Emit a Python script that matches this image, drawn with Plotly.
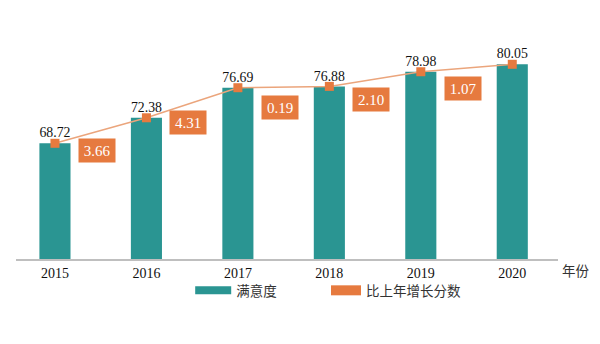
import plotly.graph_objects as go

years = ["2015", "2016", "2017", "2018", "2019", "2020"]
satisfaction = [68.72, 72.38, 76.69, 76.88, 78.98, 80.05]
increase = ["3.66", "4.31", "0.19", "2.10", "1.07"]

TEAL = "#2A9592"
ORANGE = "#E67A3F"
LINE = "#EBA57C"
SERIF = "Liberation Serif, Times New Roman, serif"
CJK = "Noto Sans CJK SC"

xs = list(range(len(years)))

fig = go.Figure()
fig.add_trace(go.Bar(
    x=xs, y=satisfaction, name="满意度", marker=dict(color=TEAL, line=dict(width=0)),
    width=0.34, text=[f"{v:.2f}" for v in satisfaction], textposition="outside",
    textfont=dict(family=SERIF, size=14.5, color="#111111"), cliponaxis=False,
    hoverinfo="skip", showlegend=False,
))
fig.add_trace(go.Scatter(
    x=xs, y=satisfaction, mode="lines+markers", showlegend=False,
    line=dict(color=LINE, width=1.5),
    marker=dict(symbol="square", size=9, color=ORANGE), cliponaxis=False,
))
# legend-only entries
fig.add_trace(go.Scatter(
    x=[None], y=[None], mode="lines", name="满意度",
    line=dict(color=TEAL, width=8), legend="legend",
))
fig.add_trace(go.Scatter(
    x=[None], y=[None], mode="lines", name="比上年增长分数",
    line=dict(color=ORANGE, width=10), legend="legend2",
))

for i, lab in enumerate(increase):
    mid = (satisfaction[i] + satisfaction[i + 1]) / 2
    fig.add_annotation(
        x=i + 0.5, y=mid, xref="x", yref="y", text=lab, showarrow=False,
        font=dict(family=SERIF, size=15, color="white"),
        bgcolor=ORANGE, width=34, height=21, borderpad=1, yshift=-20, xshift=-4,
    )

fig.add_annotation(
    x=1, y=0, xref="paper", yref="paper", text="年份", showarrow=False,
    xanchor="left", yanchor="middle", xshift=2, yshift=-11,
    font=dict(family=CJK, size=13.5, color="#333333"),
)

legfont = dict(family=CJK, size=13.5, color="#333333")
fig.update_layout(
    width=600, height=344, margin=dict(l=16, r=42, t=20, b=85),
    paper_bgcolor="white", plot_bgcolor="white",
    barmode="overlay",
    xaxis=dict(range=[-0.426, 5.5], tickmode="array", tickvals=xs, ticktext=years,
               showline=True, linecolor="#BFBFBF", linewidth=1.5, showgrid=False,
               zeroline=False, ticks="", tickfont=dict(family=SERIF, size=14, color="#111111")),
    yaxis=dict(range=[52.13, 86.4], visible=False, showgrid=False),
    showlegend=True,
    legend=dict(orientation="h", x=0.3214, xanchor="left", y=-0.132, yanchor="middle",
                font=legfont, itemwidth=36, bgcolor="rgba(0,0,0,0)"),
    legend2=dict(orientation="h", x=0.572, xanchor="left", y=-0.132, yanchor="middle",
                 font=legfont, itemwidth=30, bgcolor="rgba(0,0,0,0)"),
)

fig.write_html("out.html")
